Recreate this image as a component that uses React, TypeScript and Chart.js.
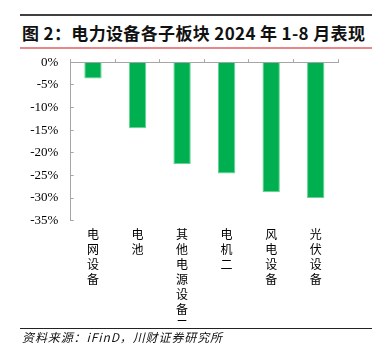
import React, { useEffect, useRef } from "react";
import { Chart, registerables } from "chart.js";

Chart.register(...registerables);

const categories: string[][] = [
  ["电", "网", "设", "备"],
  ["电", "池"],
  ["其", "他", "电", "源", "设", "备", "二"],
  ["电", "机", "二"],
  ["风", "电", "设", "备"],
  ["光", "伏", "设", "备"],
];
const categoryNames = ["电网设备", "电池", "其他电源设备二", "电机二", "风电设备", "光伏设备"];
const values = [-3.6, -14.6, -22.5, -24.6, -28.7, -30.0];
const yMin = -35;
const yMax = 0;
const yStep = 5;

const titleText = "图 2：电力设备各子板块 2024 年 1-8 月表现";
const sourceText = "资料来源：iFinD，川财证券研究所";

const AXIS = "#a6a6a6";

export default function App() {
  const ref = useRef<HTMLCanvasElement | null>(null);

  useEffect(() => {
    if (!ref.current) return;
    const chart = new Chart(ref.current, {
      type: "bar",
      data: {
        labels: categories,
        datasets: [
          {
            data: values,
            backgroundColor: "#00b050",
            borderColor: "#66d394",
            borderWidth: 1,
            barPercentage: 0.39,
            categoryPercentage: 1,
            xAxisID: "x",
          },
        ],
      },
      options: {
        responsive: false,
        animation: false,
        devicePixelRatio: 1,
        layout: { padding: { top: 9.3, right: 47, left: 0, bottom: 0 } },
        plugins: { legend: { display: false }, tooltip: { enabled: false } },
        scales: {
          x: {
            type: "category",
            position: "bottom",
            border: { display: false },
            grid: { display: false, drawTicks: false },
            ticks: {
              autoSkip: false,
              maxRotation: 0,
              minRotation: 0,
              padding: 6,
              color: "#000",
              font: { family: "'Noto Sans CJK SC'", size: 12, lineHeight: 1.25 },
            },
            afterFit: (s: any) => {
              s.height = 109.3;
            },
          },
          x2: {
            type: "category",
            position: "top",
            labels: categoryNames,
            offset: true,
            border: { display: true, color: AXIS, width: 1 },
            grid: { offset: true, drawOnChartArea: false, tickLength: 3, color: AXIS },
            ticks: { display: false },
            afterFit: (s: any) => {
              s.height = 3;
            },
          },
          y: {
            min: yMin,
            max: yMax,
            border: { display: true, color: AXIS, width: 1 },
            grid: { drawOnChartArea: false, tickLength: -3, color: AXIS },
            ticks: {
              stepSize: yStep,
              padding: 15.4,
              color: "#000",
              font: { family: "'Liberation Serif'", size: 13 },
              callback: (v: any) => `${v}%`,
            },
            afterFit: (s: any) => {
              s.width = 70.7;
            },
          },
        },
      },
    } as any);
    return () => chart.destroy();
  }, []);

  return (
    <div style={{ position: "absolute", left: 0, top: 0, width: 385, height: 358, background: "#fff" }}>
      <div style={{ position: "absolute", left: 20, top: 14, width: 352, height: 2, background: "#404040" }} />
      <div
        style={{
          position: "absolute",
          left: 22,
          top: 21,
          height: 24,
          lineHeight: "24px",
          fontFamily: "'Noto Sans CJK SC'",
          fontWeight: 700,
          fontSize: 17,
          letterSpacing: "0.35px",
          whiteSpace: "nowrap",
          color: "#111",
        }}
      >
        {titleText}
      </div>
      <div style={{ position: "absolute", left: 20, top: 47, width: 352, height: 2, background: "#e8878a" }} />
      <canvas
        ref={ref}
        width={385}
        height={291}
        style={{ position: "absolute", left: 0, top: 39, width: 385, height: 291 }}
      />
      <div style={{ position: "absolute", left: 20, top: 328, width: 352, height: 1, background: "#222" }} />
      <div
        style={{
          position: "absolute",
          left: 22,
          top: 329,
          height: 16,
          lineHeight: "16px",
          fontFamily: "'Noto Sans CJK SC'",
          fontStyle: "italic",
          fontSize: 12,
          letterSpacing: "0.9px",
          whiteSpace: "nowrap",
          color: "#111",
        }}
      >
        {sourceText}
      </div>
    </div>
  );
}
